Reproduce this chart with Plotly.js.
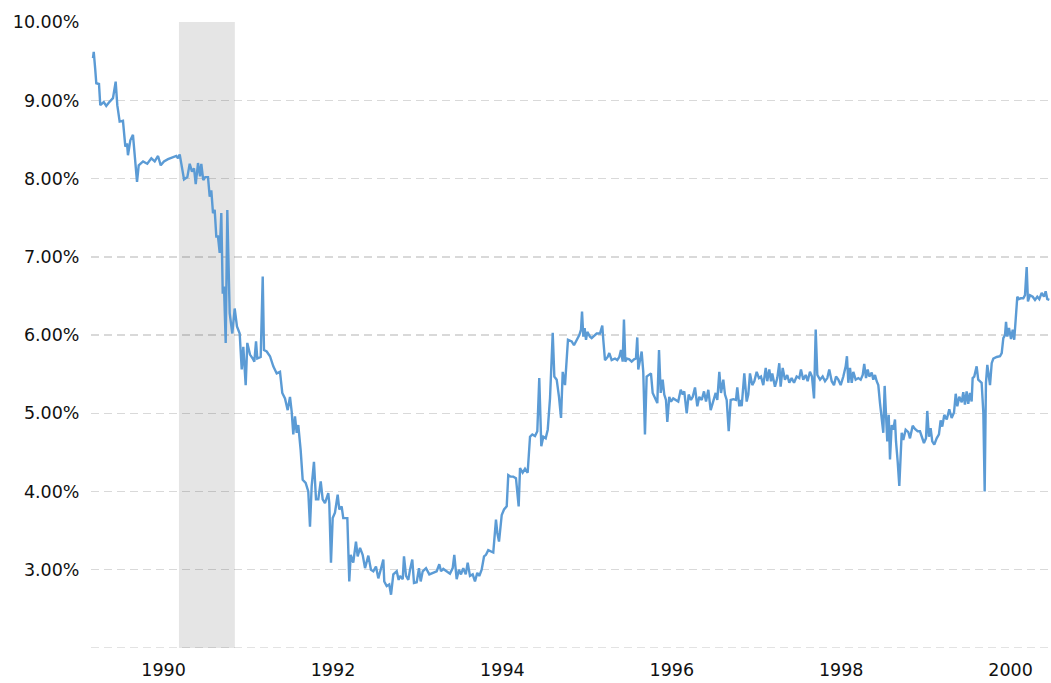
<!DOCTYPE html>
<html>
<head>
<meta charset="utf-8">
<script src="https://cdn.plot.ly/plotly-3.0.1.min.js"></script>
<style>html,body{margin:0;padding:0;background:#fff;}#chart{width:1051px;height:683px;}</style>
</head>
<body>
<div id="chart"></div>
<script>
// Effective rate (%) by decimal year
const years = [
1989.485,1989.494,1989.512,1989.524,1989.556,1989.571,1989.612,1989.642,1989.671,1989.694,1989.721,1989.753,1989.772,1989.800,1989.839,1989.867,1989.887,1989.898,1989.926,1989.957,1989.978,
1990.005,1990.025,1990.076,1990.126,1990.174,1990.214,1990.253,1990.285,1990.323,1990.371,1990.430,1990.469,1990.489,1990.509,1990.560,1990.599,1990.627,1990.654,1990.678,1990.698,1990.725,1990.749,1990.764,1990.787,1990.811,1990.843,1990.863,1990.882,1990.902,1990.922,1990.941,1990.961,1990.981,
1991.000,1991.017,1991.032,1991.052,1991.071,1991.099,1991.130,1991.158,1991.185,1991.217,1991.241,1991.260,1991.288,1991.307,1991.339,1991.371,1991.390,1991.410,1991.425,1991.465,1991.489,1991.504,1991.536,1991.575,1991.614,1991.654,1991.693,1991.720,1991.752,1991.784,1991.811,1991.831,1991.850,1991.870,1991.890,1991.909,1991.937,1991.961,1991.996,
1992.027,1992.047,1992.067,1992.094,1992.118,1992.145,1992.174,1992.197,1992.224,1992.263,1992.275,1992.295,1992.315,1992.342,1992.374,1992.393,1992.421,1992.440,1992.488,1992.511,1992.528,1992.558,1992.590,1992.610,1992.638,1992.669,1992.697,1992.736,1992.767,1992.795,1992.826,1992.854,1992.882,1992.913,1992.924,1992.953,1992.983,
1993.004,1993.031,1993.071,1993.094,1993.110,1993.142,1993.157,1993.181,1993.208,1993.228,1993.255,1993.275,1993.307,1993.334,1993.354,1993.378,1993.417,1993.456,1993.491,1993.543,1993.574,1993.594,1993.621,1993.661,1993.700,1993.732,1993.751,1993.779,1993.806,1993.830,1993.857,1993.886,1993.909,1993.936,1993.968,1993.995,
1994.022,1994.046,1994.074,1994.102,1994.125,1994.152,1994.181,1994.211,1994.243,1994.259,1994.279,1994.311,1994.338,1994.370,1994.388,1994.417,1994.447,1994.479,1994.511,1994.527,1994.558,1994.586,1994.617,1994.645,1994.672,1994.704,1994.731,1994.754,1994.778,1994.802,1994.830,1994.854,1994.881,1994.913,1994.932,1994.960,1994.987,
1995.011,1995.031,1995.058,1995.093,1995.137,1995.164,1995.196,1995.227,1995.247,1995.259,1995.274,1995.290,1995.306,1995.321,1995.353,1995.373,1995.392,1995.432,1995.471,1995.498,1995.510,1995.530,1995.562,1995.581,1995.609,1995.648,1995.675,1995.699,1995.719,1995.739,1995.754,1995.770,1995.786,1995.817,1995.845,1995.873,1995.896,1995.911,1995.923,1995.943,1995.963,1995.982,
1996.002,1996.022,1996.053,1996.073,1996.093,1996.120,1996.148,1996.168,1996.188,1996.211,1996.230,1996.250,1996.266,1996.289,1996.310,1996.336,1996.368,1996.395,1996.424,1996.448,1996.466,1996.495,1996.518,1996.545,1996.566,1996.593,1996.620,1996.644,1996.672,1996.699,1996.723,1996.750,1996.778,1996.809,1996.837,1996.856,1996.880,1996.900,1996.927,1996.947,1996.967,1996.991,
1997.014,1997.045,1997.077,1997.092,1997.116,1997.124,1997.144,1997.175,1997.203,1997.222,1997.242,1997.269,1997.293,1997.321,1997.348,1997.372,1997.399,1997.428,1997.446,1997.470,1997.490,1997.505,1997.537,1997.564,1997.588,1997.604,1997.628,1997.655,1997.682,1997.706,1997.734,1997.762,1997.793,1997.824,1997.844,1997.871,1997.900,1997.923,1997.950,1997.974,1997.998,
1998.018,1998.037,1998.069,1998.100,1998.128,1998.155,1998.178,1998.207,1998.234,1998.258,1998.285,1998.313,1998.344,1998.372,1998.387,1998.403,1998.423,1998.443,1998.462,1998.490,1998.521,1998.549,1998.573,1998.591,1998.612,1998.632,1998.651,1998.679,1998.698,1998.718,1998.738,1998.757,1998.777,1998.797,1998.816,1998.832,1998.848,1998.863,1998.880,1998.895,1998.915,1998.934,1998.954,1998.966,1998.986,
1999.005,1999.033,1999.052,1999.080,1999.111,1999.131,1999.163,1999.190,1999.222,1999.249,1999.269,1999.296,1999.320,1999.335,1999.355,1999.375,1999.394,1999.418,1999.446,1999.473,1999.493,1999.512,1999.536,1999.565,1999.595,1999.623,1999.651,1999.671,1999.690,1999.713,1999.742,1999.760,1999.780,1999.800,1999.819,1999.839,1999.859,1999.871,1999.890,1999.918,1999.937,1999.957,1999.977,1999.997,
2000.013,2000.028,2000.044,2000.060,2000.076,2000.096,2000.115,2000.155,2000.194,2000.214,2000.233,2000.253,2000.265,2000.280,2000.300,2000.324,2000.344,2000.362,2000.383,2000.398,2000.418,2000.438,2000.469,2000.489,2000.509,2000.524,2000.548,2000.580,2000.607,2000.634,2000.658,2000.686,2000.713,2000.733,2000.752,2000.776
];
const rates = [
9.54,9.62,9.39,9.22,9.21,8.94,8.98,8.93,8.97,9.00,9.03,9.24,8.94,8.73,8.74,8.41,8.45,8.30,8.49,8.56,8.24,
7.96,8.17,8.22,8.19,8.26,8.22,8.29,8.17,8.22,8.25,8.28,8.29,8.26,8.31,7.99,8.02,8.19,8.09,8.13,7.93,8.20,8.03,8.19,7.98,8.02,8.02,7.77,7.85,7.56,7.60,7.26,7.26,7.05,
7.56,6.53,6.62,5.90,7.60,6.28,6.02,6.34,6.11,6.02,5.56,5.85,5.36,5.90,5.75,5.70,5.66,5.92,5.70,5.72,6.75,5.81,5.79,5.73,5.60,5.51,5.53,5.26,5.19,5.04,5.21,5.02,4.73,4.96,4.75,4.85,4.53,4.15,4.11,
4.00,3.55,4.07,4.38,3.90,3.90,4.13,3.90,3.85,3.98,3.85,3.09,3.66,3.73,3.96,3.77,3.81,3.66,3.66,2.85,3.19,3.09,3.36,3.17,3.28,3.19,3.02,3.18,3.00,2.98,3.04,2.89,3.00,3.13,2.85,2.79,2.81,
2.68,2.94,2.98,2.87,2.92,2.88,3.17,2.92,2.87,3.00,3.13,2.83,2.84,3.02,2.85,2.98,3.02,2.94,2.96,2.98,3.07,2.98,3.01,2.98,2.95,3.02,3.19,2.88,3.00,2.94,3.02,2.94,3.09,2.92,2.94,2.85,
2.96,2.92,3.00,3.17,3.19,3.25,3.24,3.22,3.64,3.47,3.36,3.70,3.77,3.81,4.21,4.19,4.19,4.17,3.81,4.30,4.24,4.29,4.24,4.70,4.73,4.71,4.77,5.45,4.58,4.70,4.68,4.79,5.19,6.03,5.47,5.43,5.21,
4.94,5.53,5.36,5.94,5.92,5.87,5.94,6.00,6.07,6.30,5.98,6.09,5.94,6.04,5.98,5.96,5.98,6.02,6.02,6.12,5.94,5.68,5.72,5.77,5.68,5.70,5.68,5.72,5.81,5.66,6.20,5.66,5.70,5.69,5.66,5.69,5.70,5.97,5.56,5.70,5.79,5.53,
4.73,5.47,5.49,5.51,5.26,5.19,5.13,5.81,5.26,5.43,5.24,5.17,4.89,5.21,5.15,5.19,5.17,5.15,5.30,5.24,5.28,5.00,5.24,5.17,5.21,5.33,5.09,5.21,5.17,5.28,5.15,5.30,5.04,5.17,5.26,5.17,5.53,5.26,5.43,5.24,5.17,4.77,
5.17,5.18,5.17,5.33,5.09,5.17,5.09,5.51,5.15,5.24,5.51,5.36,5.41,5.53,5.45,5.47,5.36,5.58,5.41,5.56,5.41,5.51,5.34,5.45,5.64,5.34,5.58,5.43,5.49,5.39,5.45,5.39,5.47,5.45,5.56,5.43,5.49,5.41,5.53,5.47,5.19,
6.07,5.49,5.43,5.47,5.41,5.45,5.56,5.41,5.36,5.47,5.43,5.36,5.47,5.60,5.73,5.39,5.58,5.39,5.53,5.43,5.45,5.43,5.49,5.63,5.45,5.56,5.47,5.52,5.43,5.49,5.41,5.36,5.13,4.96,4.75,5.35,4.92,4.64,4.98,4.41,4.85,4.79,4.92,4.64,4.38,
4.07,4.75,4.66,4.79,4.76,4.68,4.84,4.80,4.77,4.77,4.70,4.62,4.68,5.03,4.70,4.81,4.64,4.60,4.68,4.73,4.91,4.83,4.98,4.92,5.05,4.94,5.01,5.25,5.09,5.21,5.14,5.27,5.11,5.28,5.12,5.26,5.15,5.45,5.47,5.60,5.43,5.41,5.39,5.01,
4.00,5.39,5.62,5.49,5.36,5.64,5.70,5.72,5.73,5.77,5.96,6.00,6.17,5.98,6.09,5.95,6.07,5.94,6.22,6.49,6.46,6.47,6.47,6.51,6.87,6.43,6.51,6.49,6.45,6.49,6.46,6.54,6.49,6.56,6.46,6.45
];
// Recession period (decimal years)
const recessionStart = 1990.50;
const recessionEnd = 1991.16;
// Axis ticks
const xTickVals = [1990, 1992, 1994, 1996, 1998, 2000];
const xTickText = ['1990', '1992', '1994', '1996', '1998', '2000'];
const yTickVals = [3, 4, 5, 6, 7, 8, 9, 10];
const yTickText = ['3.00%', '4.00%', '5.00%', '6.00%', '7.00%', '8.00%', '9.00%', '10.00%'];
const yMin = 2;

const font = {family: 'DejaVu Sans, Verdana, sans-serif', size: 17.5, color: '#111'};
const gridColor = 'rgba(0,0,0,0.15)';
const trace = {
  x: years, y: rates, type: 'scatter', mode: 'lines',
  line: {color: '#5b9bd5', width: 2.4}, hoverinfo: 'skip'
};
const layout = {
  width: 1051, height: 683,
  margin: {l: 91, r: 0, t: 22, b: 35},
  paper_bgcolor: '#fff', plot_bgcolor: '#fff',
  showlegend: false,
  font: font,
  xaxis: {
    range: [1989.4616, 2000.796],
    tickvals: xTickVals, ticktext: xTickText,
    showgrid: false, zeroline: false, showline: false,
    ticks: 'outside', ticklen: 6, tickcolor: 'rgba(0,0,0,0)',
    ticklabelshift: 27,
    tickfont: font, fixedrange: true
  },
  yaxis: {
    range: [1.999, 10.003],
    tickvals: yTickVals, ticktext: yTickText,
    showgrid: true, gridcolor: gridColor, gridwidth: 1.3, griddash: '8px,5px',
    zeroline: false, showline: false,
    ticks: 'outside', ticklen: 7, tickcolor: 'rgba(0,0,0,0)',
    tickfont: font, fixedrange: true
  },
  shapes: [{
    type: 'rect', xref: 'x', yref: 'paper',
    x0: recessionStart, x1: recessionEnd, y0: 0, y1: 1,
    fillcolor: '#e5e5e5', line: {width: 0}, layer: 'below'
  }, {
    type: 'line', xref: 'paper', yref: 'y',
    x0: 0, x1: 1, y0: yMin, y1: yMin,
    line: {color: gridColor, width: 1.3, dash: '8px,5px'}, layer: 'between'
  }]
};
Plotly.newPlot('chart', [trace], layout, {displayModeBar: false, staticPlot: true});
</script>
</body>
</html>
